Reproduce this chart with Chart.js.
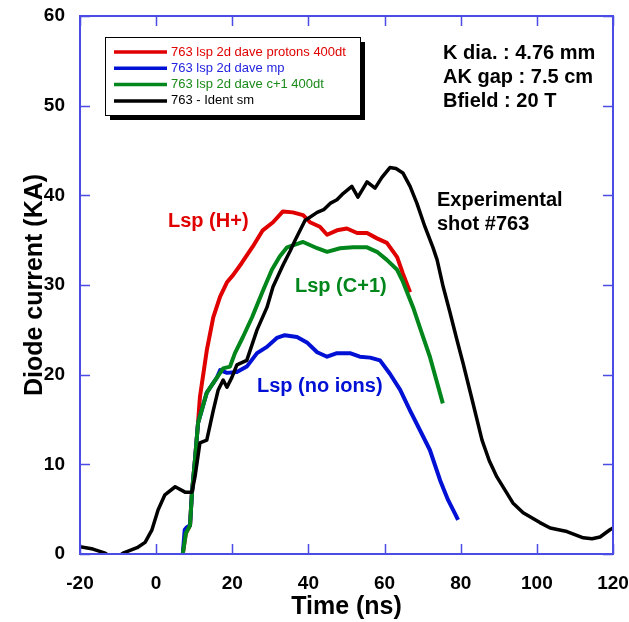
<!DOCTYPE html>
<html>
<head>
<meta charset="utf-8">
<script src="https://cdn.jsdelivr.net/npm/chart.js@4.4.1/dist/chart.umd.min.js"></script>
<style>
  html, body { margin: 0; padding: 0; background: #fff; }
  #wrap { width: 629px; height: 622px; }
</style>
</head>
<body>
<div id="wrap"><canvas id="grafico" width="629" height="622"></canvas></div>
<script>
// time axis (ns) and diode current (kA)
const xTicks = [-20, 0, 20, 40, 60, 80, 100, 120];
const yTicks = [0, 10, 20, 30, 40, 50, 60];

const protonsT = [7, 7.8, 8.9, 9.4, 10.2, 11, 11.5, 13.3, 15, 16.8, 18.6, 20.2, 22.4, 25.4, 28, 30.7, 33.3, 35.9, 38.6, 40.4, 43, 44.9, 47.5, 50.1, 52.8, 55.4, 58, 60.6, 63.3, 64.8, 66.7];
const protonsI = [0, 2.3, 3.2, 6.8, 10.5, 14.6, 17.5, 22.7, 26.4, 28.7, 30.3, 31.1, 32.4, 34.3, 36.1, 37, 38.2, 38.1, 37.8, 37, 36.5, 35.6, 36.1, 36.3, 35.8, 35.8, 35.2, 34.7, 33.1, 31.3, 29.2];

const mpT = [7, 7.5, 8.1, 8.9, 9.4, 10.2, 11, 13.3, 16, 16.8, 18.6, 21.2, 23.8, 26.5, 29.1, 31.7, 33.8, 37, 39.6, 42.3, 44.9, 47.5, 50.9, 53.5, 56.2, 58.8, 61.4, 64.1, 66.7, 69.3, 71.9, 74.6, 76.7, 78.5, 79.3];
const mpI = [0, 2.7, 3, 3.2, 6.8, 10.5, 14.6, 18, 19.7, 20.5, 20.2, 20.3, 20.9, 22.4, 23.1, 24.1, 24.4, 24.2, 23.6, 22.5, 22, 22.4, 22.4, 22, 21.9, 21.6, 20.1, 18.3, 16, 13.8, 11.6, 8.2, 6, 4.5, 3.8];

const carbonT = [7, 7.8, 8.9, 9.4, 10.2, 11, 13.3, 16, 17.6, 19.4, 20.7, 22.8, 25.2, 27.8, 30.4, 32.5, 34.4, 38.6, 42.3, 44.9, 48.3, 51.7, 55.4, 58, 60.6, 63.3, 64.8, 67.5, 69.8, 71.9, 73.8, 75.3];
const carbonI = [0, 2.3, 3.2, 6.8, 10.5, 14.6, 18, 19.7, 20.7, 20.9, 22.4, 24.2, 26.4, 29.1, 31.7, 33.2, 34.2, 34.8, 34.1, 33.7, 34.1, 34.2, 34.2, 33.7, 32.8, 31.7, 30.4, 27.5, 24.6, 22, 19.1, 16.8];

const expT = [-20, -16.6, -13.4, -12, -10, -8.7, -5, -2.9, -1.1, 0.5, 2.3, 5, 7.6, 9.4, 10.2, 11.5, 13.3, 15, 16.3, 17.6, 18.6, 19.9, 21.2, 23.8, 26.5, 29.1, 30.7, 33.3, 35.2, 36.5, 39.1, 42.3, 44, 45.7, 47.5, 49.1, 51.4, 53, 55.4, 57.5, 59.3, 61.4, 63, 64.8, 66.7, 68.5, 70.6, 72.7, 73.8, 75.4, 77.2, 79, 80.6, 83, 85.6, 87.5, 89.5, 93.7, 96.4, 100.8, 103.5, 107.9, 112.2, 114.5, 116.6, 119.2, 120];
const expI = [0.8, 0.55, 0.1, -0.3, -0.3, 0.1, 0.7, 1.3, 2.7, 4.9, 6.6, 7.5, 6.9, 6.9, 8.6, 12.4, 12.7, 16, 18.3, 19.4, 18.6, 19.7, 21.1, 21.6, 25, 27.5, 29.8, 32.2, 33.8, 35, 37.2, 38.1, 38.4, 39.1, 39.5, 40.2, 41, 39.8, 41.5, 40.8, 42, 43.1, 43, 42.5, 41, 39.1, 36.5, 34.2, 32.8, 29.8, 26.9, 23.9, 21.3, 17.2, 12.7, 10.4, 8.6, 5.7, 4.6, 3.5, 2.9, 2.5, 1.8, 1.7, 1.9, 2.7, 2.9];

const nomes = ["763 lsp 2d dave protons 400dt", "763 lsp 2d dave mp", "763 lsp 2d dave c+1 400dt", "763 - Ident sm"];
const cores = ["#e00000", "#0010d4", "#00861a", "#000000"];
const coresLegenda = ["#e00000", "#2424e0", "#1a8a1a", "#000000"];

const FONTE = '"Liberation Sans", Arial, sans-serif';
const corEixo = "#4b4be6";

function pontos(ts, vs) {
  return ts.map((t, i) => ({ x: t, y: vs[i] }));
}

const moldura = {
  id: "moldura",
  afterDatasetsDraw(chart) {
    const { ctx, chartArea: a, scales } = chart;
    ctx.save();
    ctx.strokeStyle = corEixo;
    ctx.lineWidth = 2;
    ctx.strokeRect(a.left, a.top, a.right - a.left, a.bottom - a.top);
    ctx.lineWidth = 1.5;
    const tam = 10;
    xTicks.forEach(v => {
      const px = Math.round(scales.x.getPixelForValue(v)) + 0.5;
      ctx.beginPath();
      ctx.moveTo(px, a.bottom); ctx.lineTo(px, a.bottom - tam);
      ctx.moveTo(px, a.top); ctx.lineTo(px, a.top + tam);
      ctx.stroke();
    });
    yTicks.forEach(v => {
      const py = Math.round(scales.y.getPixelForValue(v)) + 0.5;
      ctx.beginPath();
      ctx.moveTo(a.left, py); ctx.lineTo(a.left + tam, py);
      ctx.moveTo(a.right, py); ctx.lineTo(a.right - tam, py);
      ctx.stroke();
    });

    // legend box with shadow
    const bx = 105, by = 37, bw = 255, bh = 78;
    ctx.fillStyle = "#000";
    ctx.fillRect(bx + 5, by + 5, bw, bh);
    ctx.fillStyle = "#fff";
    ctx.fillRect(bx, by, bw, bh);
    ctx.strokeStyle = "#000";
    ctx.lineWidth = 1;
    ctx.strokeRect(bx + 0.5, by + 0.5, bw, bh);
    ctx.font = "13px " + FONTE;
    ctx.textBaseline = "middle";
    ctx.textAlign = "left";
    nomes.forEach((n, i) => {
      const y = 52 + i * 16.3;
      ctx.strokeStyle = cores[i];
      ctx.lineWidth = 3.5;
      ctx.beginPath();
      ctx.moveTo(114, y); ctx.lineTo(167, y);
      ctx.stroke();
      ctx.fillStyle = coresLegenda[i];
      ctx.fillText(n, 171, y);
    });

    // annotations
    ctx.font = "bold 20px " + FONTE;
    const notas = [
      ["K dia. : 4.76 mm", 443, 53, "#000"],
      ["AK gap : 7.5 cm", 443, 77, "#000"],
      ["Bfield : 20 T", 443, 101, "#000"],
      ["Lsp (H+)", 168, 221, "#e00000"],
      ["Experimental", 437, 200, "#000"],
      ["shot #763", 437, 224, "#000"],
      ["Lsp (C+1)", 295, 286, "#00861a"],
      ["Lsp (no ions)", 257, 386, "#0010d4"]
    ];
    notas.forEach(([t, x, y, c]) => {
      ctx.fillStyle = c;
      ctx.fillText(t, x, y);
    });
    ctx.restore();
  }
};

const ctx = document.getElementById("grafico").getContext("2d");
new Chart(ctx, {
  type: "line",
  data: {
    datasets: [
      { label: nomes[0], data: pontos(protonsT, protonsI), borderColor: cores[0], borderWidth: 4, order: 4 },
      { label: nomes[1], data: pontos(mpT, mpI), borderColor: cores[1], borderWidth: 4, order: 3 },
      { label: nomes[2], data: pontos(carbonT, carbonI), borderColor: cores[2], borderWidth: 4, order: 2 },
      { label: nomes[3], data: pontos(expT, expI), borderColor: cores[3], borderWidth: 3.5, order: 1 }
    ]
  },
  options: {
    responsive: false,
    animation: false,
    events: [],
    elements: { point: { radius: 0 }, line: { tension: 0, borderJoinStyle: "round" } },
    layout: { padding: { top: 16, right: 16, left: 0, bottom: 0 } },
    plugins: { legend: { display: false }, tooltip: { enabled: false } },
    scales: {
      x: {
        type: "linear", min: -20, max: 120,
        afterBuildTicks: s => { s.ticks = xTicks.map(v => ({ value: v })); },
        afterFit: s => { s.height = 68; s.paddingLeft = 0; s.paddingRight = 0; },
        grid: { display: false, drawTicks: false },
        border: { display: false },
        ticks: { color: "#000", padding: 18, maxRotation: 0, font: { family: FONTE, size: 19, weight: "bold" } },
        title: { display: true, text: "Time (ns)", color: "#000", padding: { top: 0, bottom: 0 }, font: { family: FONTE, size: 25, weight: "bold" } }
      },
      y: {
        type: "linear", min: 0, max: 60,
        afterBuildTicks: s => { s.ticks = yTicks.map(v => ({ value: v })); },
        afterFit: s => { s.width = 80; s.paddingTop = 0; s.paddingBottom = 0; },
        grid: { display: false, drawTicks: false },
        border: { display: false },
        ticks: { color: "#000", padding: 15, font: { family: FONTE, size: 19, weight: "bold" } },
        title: { display: true, text: "Diode current (KA)", color: "#000", padding: { top: 20, bottom: 0 }, font: { family: FONTE, size: 25, weight: "bold" } }
      }
    }
  },
  plugins: [moldura]
});
</script>
</body>
</html>
